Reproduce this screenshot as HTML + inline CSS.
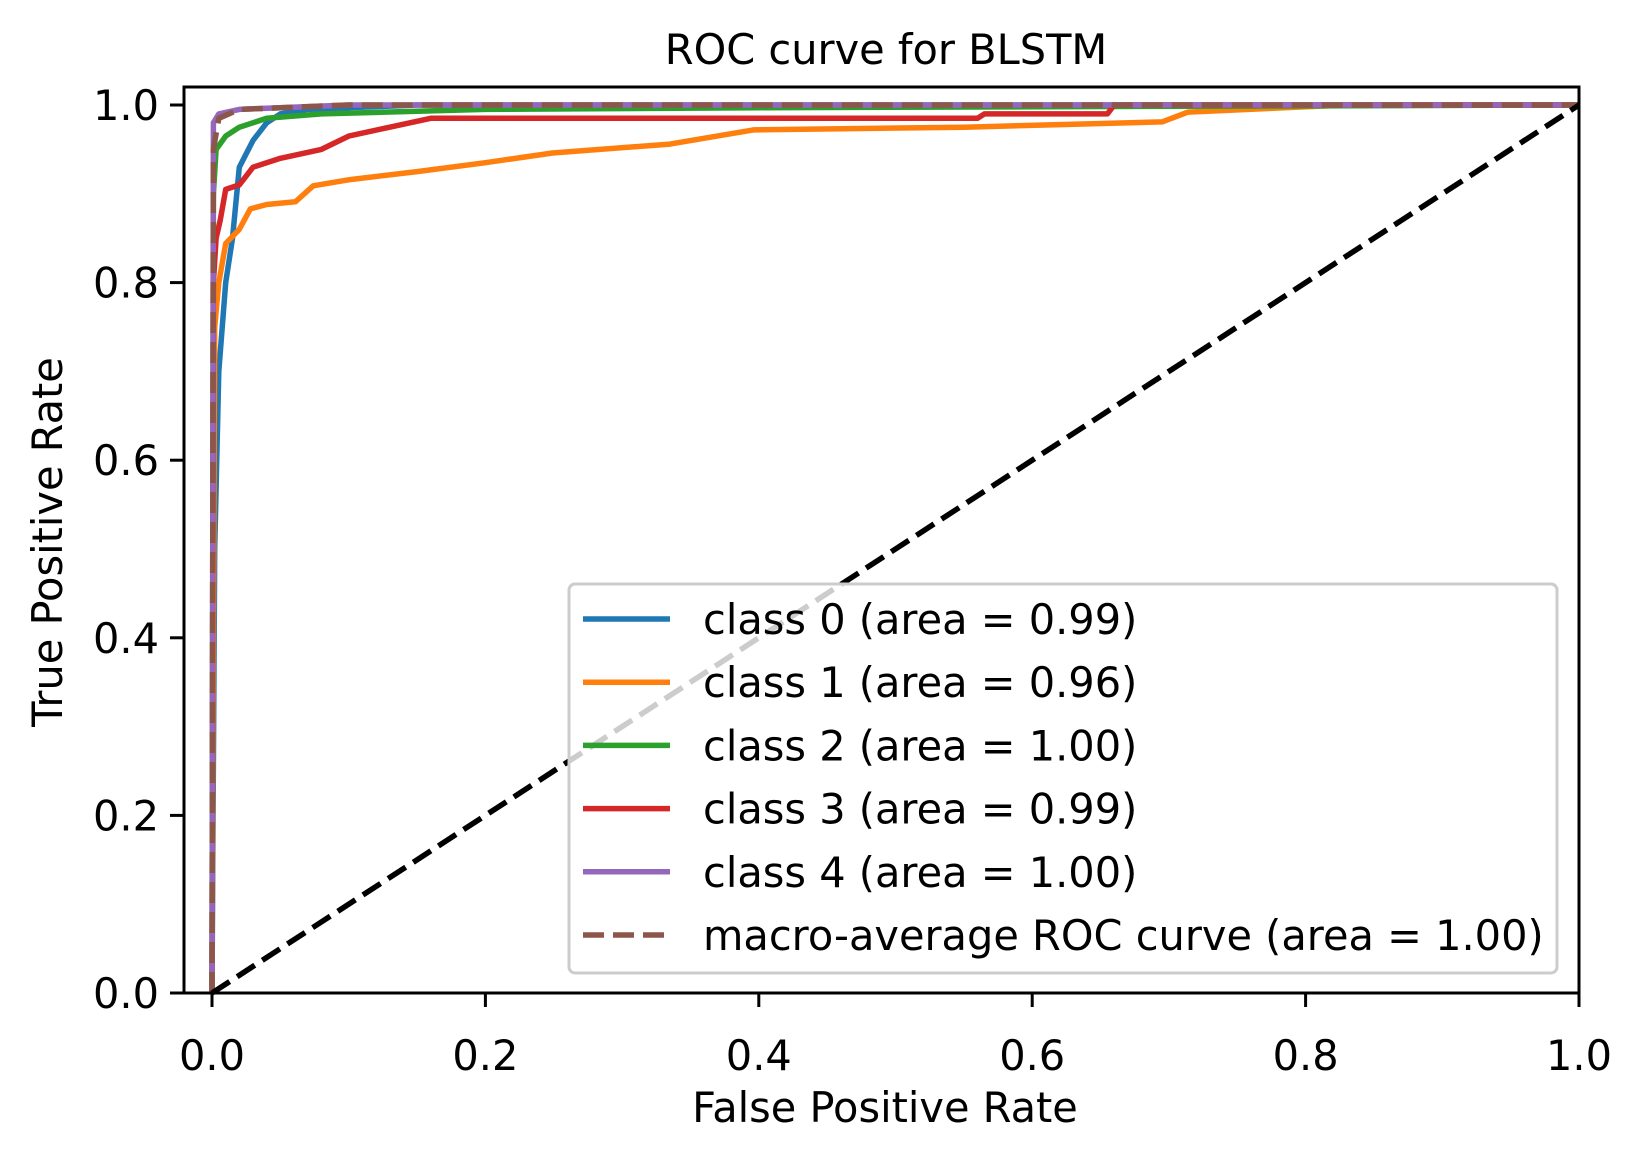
<!DOCTYPE html>
<html><head><meta charset="utf-8"><style>
html,body{margin:0;padding:0;background:#fff;}
svg{display:block;font-family:"DejaVu Sans","Liberation Sans",sans-serif;}
</style></head><body>
<svg id="chart" width="1642" height="1153" viewBox="0 0 1642 1153">
<rect width="1642" height="1153" fill="#fff"/>
<text x="886" y="64" font-size="41.5" text-anchor="middle">ROC curve for BLSTM</text>
<g id="curves"></g>
<rect x="184" y="87" width="1395" height="906" fill="none" stroke="#000" stroke-width="3"/>
<g id="ticks"></g>
<text x="885" y="1122" font-size="41.5" text-anchor="middle">False Positive Rate</text>
<text transform="translate(62,542) rotate(-90)" font-size="41.5" text-anchor="middle">True Positive Rate</text>
<g id="legend"></g>
</svg>
<script>
const xTicks=[0,0.2,0.4,0.6,0.8,1.0];
const yTicks=[0,0.2,0.4,0.6,0.8,1.0];
const tickLabels=["0.0","0.2","0.4","0.6","0.8","1.0"];
const seriesNames=["class 0 (area = 0.99)","class 1 (area = 0.96)","class 2 (area = 1.00)","class 3 (area = 0.99)","class 4 (area = 1.00)","macro-average ROC curve (area = 1.00)"];
const seriesColors=["#1f77b4","#ff7f0e","#2ca02c","#d62728","#9467bd","#8c564b"];
const fpr0=[0,0.002,0.005,0.01,0.015,0.02,0.03,0.04,0.05,0.07,0.15,1];
const tpr0=[0,0.5,0.7,0.8,0.85,0.93,0.96,0.98,0.99,0.995,1,1];
const fpr1=[0,0.002,0.005,0.01,0.02,0.028,0.04,0.061,0.074,0.101,0.15,0.2,0.249,0.335,0.396,0.55,0.695,0.714,0.83,1];
const tpr1=[0,0.75,0.8,0.844,0.86,0.883,0.888,0.891,0.909,0.916,0.925,0.935,0.946,0.956,0.972,0.975,0.981,0.992,1,1];
const fpr2=[0,0.001,0.003,0.01,0.02,0.04,0.08,0.2,0.4,1];
const tpr2=[0,0.9,0.95,0.965,0.975,0.985,0.99,0.995,0.997,1];
const fpr3=[0,0.001,0.003,0.006,0.01,0.02,0.03,0.05,0.08,0.1,0.13,0.16,0.56,0.565,0.655,0.66,1];
const tpr3=[0,0.8,0.85,0.87,0.905,0.91,0.93,0.94,0.95,0.965,0.975,0.985,0.985,0.99,0.99,1,1];
const fpr4=[0,0.001,0.005,0.02,0.1,1];
const tpr4=[0,0.98,0.99,0.995,1,1];
const fprM=[0,0.001,0.005,0.02,0.1,1];
const tprM=[0,0.95,0.985,0.995,1,1];
const diagX=[0,1];
const diagY=[0,1];

const NS="http://www.w3.org/2000/svg";
const X0=212,X1=1579,Y0=993,Y1=105;
const LW=5.5, DASH='21 9';
function sx(v){return X0+(X1-X0)*v;}
function sy(v){return Y0-(Y0-Y1)*v;}
function pathD(xs,ys){return xs.map((x,i)=>(i?"L":"M")+sx(x).toFixed(1)+","+sy(ys[i]).toFixed(1)).join("");}

const curves=document.getElementById('curves');
const allX=[fpr0,fpr1,fpr2,fpr3,fpr4,fprM];
const allY=[tpr0,tpr1,tpr2,tpr3,tpr4,tprM];
for(let i=0;i<6;i++){
  const p=document.createElementNS(NS,'path');
  p.setAttribute('d',pathD(allX[i],allY[i]));
  p.setAttribute('fill','none');
  p.setAttribute('stroke',seriesColors[i]);
  p.setAttribute('stroke-width',LW);
  p.setAttribute('stroke-linejoin','round');
  if(i===5)p.setAttribute('stroke-dasharray',DASH);
  
  
  curves.appendChild(p);
}
const dg=document.createElementNS(NS,'path');
dg.setAttribute('d',pathD(diagX,diagY));
dg.setAttribute('fill','none');dg.setAttribute('stroke','#000');dg.setAttribute('stroke-width',LW);
dg.setAttribute('stroke-dasharray',DASH);


curves.appendChild(dg);

const ticks=document.getElementById('ticks');
xTicks.forEach((v,i)=>{
  const l=document.createElementNS(NS,'line');
  l.setAttribute('x1',sx(v));l.setAttribute('x2',sx(v));l.setAttribute('y1',993);l.setAttribute('y2',1007);
  l.setAttribute('stroke','#000');l.setAttribute('stroke-width','3');
  
  
  ticks.appendChild(l);
  const t=document.createElementNS(NS,'text');
  t.setAttribute('x',sx(v));t.setAttribute('y',1070);t.setAttribute('font-size','41.5');t.setAttribute('text-anchor','middle');
  t.textContent=tickLabels[i];
  
  
  ticks.appendChild(t);
});
yTicks.forEach((v,i)=>{
  const l=document.createElementNS(NS,'line');
  l.setAttribute('x1',170);l.setAttribute('x2',184);l.setAttribute('y1',sy(v));l.setAttribute('y2',sy(v));
  l.setAttribute('stroke','#000');l.setAttribute('stroke-width','3');
  
  
  ticks.appendChild(l);
  const t=document.createElementNS(NS,'text');
  t.setAttribute('x',159);t.setAttribute('y',sy(v)+15);t.setAttribute('font-size','41.5');t.setAttribute('text-anchor','end');
  t.textContent=tickLabels[i];
  
  
  ticks.appendChild(t);
});

const lg=document.getElementById('legend');
const box=document.createElementNS(NS,'rect');
box.setAttribute('x',569);box.setAttribute('y',584);box.setAttribute('width',988);box.setAttribute('height',389);
box.setAttribute('rx',6);box.setAttribute('fill','rgba(255,255,255,0.8)');box.setAttribute('stroke','#cccccc');box.setAttribute('stroke-width','3');


lg.appendChild(box);
seriesNames.forEach((n,i)=>{
  const y=619+i*63.2;
  const l=document.createElementNS(NS,'line');
  l.setAttribute('x1',583);l.setAttribute('x2',670);l.setAttribute('y1',y);l.setAttribute('y2',y);
  l.setAttribute('stroke',seriesColors[i]);l.setAttribute('stroke-width',LW);
  if(i===5)l.setAttribute('stroke-dasharray',DASH);
  
  
  lg.appendChild(l);
  const t=document.createElementNS(NS,'text');
  t.setAttribute('x',703);t.setAttribute('y',y+15);t.setAttribute('font-size','41.5');
  t.textContent=n;
  
  
  lg.appendChild(t);
});
</script>
</body></html>
